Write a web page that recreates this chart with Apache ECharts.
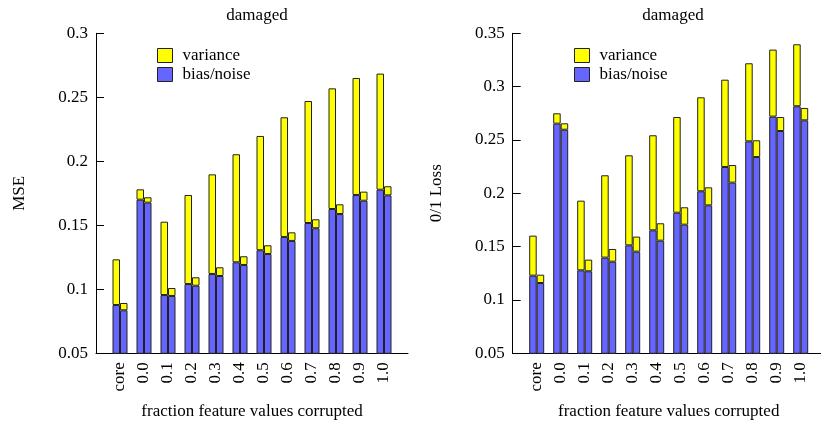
<!DOCTYPE html>
<html>
<head>
<meta charset="utf-8">
<script src="https://cdn.jsdelivr.net/npm/echarts@6/dist/echarts.min.js"></script>
<style>html,body{margin:0;padding:0;background:#fff}#c{width:821px;height:427px}</style>
</head>
<body>
<div id="c"></div>
<script>
const categories = ['core','0.0','0.1','0.2','0.3','0.4','0.5','0.6','0.7','0.8','0.9','1.0'];
// Left panel (MSE)
const mseBiasA = [0.0877,0.170,0.0955,0.1041,0.112,0.1211,0.1305,0.1409,0.1518,0.1627,0.1737,0.1778];
const mseVarA  = [0.0357,0.0081,0.0573,0.0696,0.0778,0.0844,0.0893,0.0935,0.0953,0.0943,0.0914,0.0907];
const mseBiasB = [0.0836,0.1677,0.0948,0.1028,0.1104,0.119,0.1276,0.1378,0.1477,0.1588,0.1692,0.1734];
const mseVarB  = [0.0057,0.0042,0.0062,0.0066,0.0068,0.0068,0.0068,0.0067,0.007,0.0076,0.0071,0.0071];
// Right panel (0/1 Loss)
const lossBiasA = [0.1228,0.2653,0.1278,0.1397,0.1512,0.1653,0.1818,0.2019,0.2247,0.2487,0.2719,0.2816];
const lossVarA  = [0.0375,0.0097,0.0653,0.0772,0.0844,0.0891,0.0897,0.0881,0.0818,0.0732,0.0628,0.0581];
const lossBiasB = [0.1159,0.2596,0.1269,0.1359,0.1453,0.1556,0.1706,0.1887,0.21,0.234,0.2584,0.2684];
const lossVarB  = [0.0078,0.006,0.0109,0.0119,0.0141,0.0163,0.0163,0.0169,0.0165,0.0157,0.0131,0.0116];
const legendNames = ['variance','bias/noise'];
const panelTitle = 'damaged';
const xName = 'fraction feature values corrupted';

const FONT = 'Liberation Serif';
const YELLOW = '#ffff00', BLUE = '#6666ff', EDGE = '#222';
const TXT = {fontFamily:FONT,fontSize:17,color:'#000'};

// frame axes (visible lines, y labels, names)
function frameX(gi){
  return {type:'value',gridIndex:gi,min:0,max:1,name:xName,nameLocation:'middle',nameGap:50,
    nameTextStyle:TXT,axisLine:{show:true,lineStyle:{color:'#000',width:1}},
    axisTick:{show:false},axisLabel:{show:false},splitLine:{show:false}};
}
function frameY(gi,min,max,name,gap){
  return {type:'value',gridIndex:gi,min:min,max:max,interval:0.05,
    name:name,nameLocation:'middle',nameGap:gap,nameTextStyle:TXT,
    axisLine:{show:true,lineStyle:{color:'#000',width:1}},
    axisTick:{show:true,inside:true,length:8,lineStyle:{color:'#000'}},
    splitLine:{show:false},
    axisLabel:Object.assign({margin:8,formatter:v=>String(+v.toFixed(2))},TXT)};
}
// bar axes
function barX(gi){
  return {type:'category',gridIndex:gi,data:categories,boundaryGap:true,
    axisLine:{show:false},axisTick:{show:false},splitLine:{show:false},
    axisLabel:Object.assign({rotate:90,margin:9,interval:0},TXT)};
}
function barY(gi,min,max){
  return {type:'value',gridIndex:gi,min:min,max:max,show:false,splitLine:{show:false}};
}
function bar(name,stack,data,color,ai){
  return {type:'bar',name:name,stack:stack,xAxisIndex:ai,yAxisIndex:ai,data:data,
    barWidth:7.5,barGap:'0%',clip:true,
    itemStyle:{color:color,borderColor:EDGE,borderWidth:1},
    emphasis:{disabled:true}};
}
function legend(left){
  return {data:legendNames,orient:'vertical',left:left,top:42,itemWidth:15,itemHeight:14,itemGap:2,icon:'rect',
    itemStyle:{borderColor:EDGE,borderWidth:1},
    textStyle:Object.assign({padding:[0,0,0,5],lineHeight:17},TXT)};
}

const chart = echarts.init(document.getElementById('c'), null, {renderer:'canvas'});
chart.setOption({
  animation:false,
  backgroundColor:'#fff',
  textStyle:{fontFamily:FONT},
  title:[
    {text:panelTitle,left:252,top:2,textAlign:'center',textStyle:Object.assign({},TXT,{fontWeight:'normal'})},
    {text:panelTitle,left:668,top:2,textAlign:'center',textStyle:Object.assign({},TXT,{fontWeight:'normal'})}
  ],
  legend:[legend(152),legend(569)],
  grid:[
    {left:96,top:33.3,width:312,height:320,containLabel:false,outerBoundsMode:'none'},
    {left:512.7,top:33.3,width:312,height:320,containLabel:false,outerBoundsMode:'none'},
    {left:108,top:33.3,width:288,height:320,containLabel:false,outerBoundsMode:'none'},
    {left:524.7,top:33.3,width:288,height:320,containLabel:false,outerBoundsMode:'none'}
  ],
  xAxis:[frameX(0),frameX(1),barX(2),barX(3)],
  yAxis:[frameY(0,0.05,0.3,'MSE',68),frameY(1,0.05,0.35,'0/1 Loss',68),barY(2,0.05,0.3),barY(3,0.05,0.35)],
  series:[
    bar('bias/noise','LA',mseBiasA,BLUE,2),
    bar('variance','LA',mseVarA,YELLOW,2),
    bar('bias/noise','LB',mseBiasB,BLUE,2),
    bar('variance','LB',mseVarB,YELLOW,2),
    bar('bias/noise','RA',lossBiasA,BLUE,3),
    bar('variance','RA',lossVarA,YELLOW,3),
    bar('bias/noise','RB',lossBiasB,BLUE,3),
    bar('variance','RB',lossVarB,YELLOW,3)
  ]
});
</script>
</body>
</html>
